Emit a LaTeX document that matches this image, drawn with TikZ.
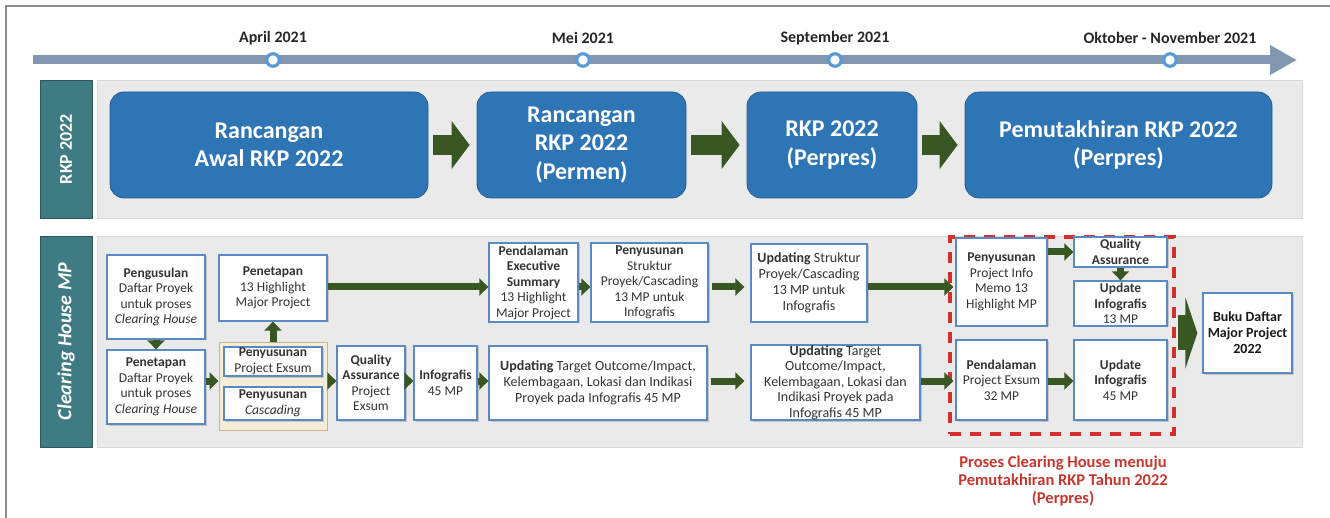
\documentclass[tikz,border=0pt]{standalone}
\usepackage{fontspec}
\setmainfont{Carlito}
\usetikzlibrary{arrows.meta,shadows}

\definecolor{framegray}{HTML}{8C8C8C}
\definecolor{barblue}{HTML}{8497B0}
\definecolor{ringblue}{HTML}{5B9BD5}
\definecolor{sideteal}{HTML}{3F7B82}
\definecolor{panelgray}{HTML}{EBEAEB}
\definecolor{rkpblue}{HTML}{2E75B6}
\definecolor{darkgreen}{HTML}{385723}
\definecolor{boxblue}{HTML}{5A8AC6}
\definecolor{tanfill}{HTML}{F4EED9}
\definecolor{tanline}{HTML}{C8B78A}
\definecolor{dashred}{HTML}{D32F2F}
\definecolor{capred}{HTML}{C8372D}

\newcommand{\Milestone}[3]{%
    \node[ring] (#1) at (#2,60) {};
    \node[datelbl] (#1-lbl) at (#2,38) {#3};
}

\begin{document}
\begin{tikzpicture}[x=1pt,y=-1pt,
    ring/.style={circle,draw=ringblue,line width=3.2pt,fill=white,minimum size=12.5pt,inner sep=0pt},
    datelbl/.style={font=\bfseries\fontsize{16}{18}\selectfont,text=black!85},
    side/.style={fill=sideteal,draw=sideteal!70!black,line width=0.6pt,rotate=90,text=white,inner sep=0pt,font=\bfseries\fontsize{18}{20}\selectfont},
    panel/.style={fill=panelgray,draw=black!15,line width=0.8pt,inner sep=0pt},
    stage/.style={rounded corners=14pt,fill=rkpblue,draw=rkpblue!80!black,line width=0.8pt,text=white,align=center,inner sep=0pt,minimum height=106pt,font=\bfseries\fontsize{24}{28.5}\selectfont},
    task/.style={draw=boxblue,line width=1.3pt,fill=white,align=center,inner sep=0pt,text=black!80,font=\fontsize{13.5}{15.5}\selectfont,drop shadow={shadow xshift=1.5pt,shadow yshift=-1.5pt,opacity=0.35}},
    bigarrow/.style={darkgreen,line width=20pt,-{Triangle[length=18pt,width=47pt]},shorten <=5pt,shorten >=7pt},
    garrow/.style={darkgreen,line width=7pt,-{Triangle[length=9pt,width=17pt]}},
]
\useasboundingbox (0,0) rectangle (1330,518);
\draw[framegray,line width=2.5pt] (6,518) -- (6,6) -- (1330,6);

\coordinate (t0) at (33,60);
\coordinate (t1) at (1297,60);
\draw[barblue,line width=9pt,-{Triangle[length=27pt,width=28pt]}] (t0) -- (t1);
\Milestone{apr}{273}{April 2021}
\Milestone{mei}{583}{Mei 2021}
\Milestone{sep}{835}{September 2021}
\Milestone{okt}{1170}{Oktober - November 2021}

\node[panel,minimum width=1205pt,minimum height=138pt] (rkp-panel) at (699.5,149) {};
\node[side,minimum width=138pt,minimum height=52pt] (rkp-side) at (66,149) {RKP 2022};
\node[panel,minimum width=1205pt,minimum height=211pt] (mp-panel) at (699.5,341.5) {};
\node[side,minimum width=211pt,minimum height=52pt,font=\bfseries\itshape\fontsize{20}{22}\selectfont] (mp-side) at (66,341.5) {Clearing House MP};

\node[stage,minimum width=318pt] (awal) at (269,145) {Rancangan\\Awal RKP 2022};
\node[stage,minimum width=209pt] (permen) at (581.5,145) {Rancangan\\RKP 2022\\(Permen)};
\node[stage,minimum width=170pt] (perpres) at (832,145) {RKP 2022\\(Perpres)};
\node[stage,minimum width=307pt] (mutakhir) at (1118.5,145) {Pemutakhiran RKP 2022\\(Perpres)};
\draw[bigarrow] (awal) -- (permen);
\draw[bigarrow] (permen) -- (perpres);
\draw[bigarrow] (perpres) -- (mutakhir);

\coordinate (upper) at (0,287);
\coordinate (lower) at (0,381);

\node[task,minimum width=98pt,minimum height=84pt] (usul) at (156,297) {\textbf{Pengusulan}\\Daftar Proyek\\untuk proses\\\textit{Clearing House}};
\node[task,minimum width=98pt,minimum height=74pt] (tetap) at (156,387) {\textbf{Penetapan}\\Daftar Proyek\\untuk proses\\\textit{Clearing House}};
\node[task,minimum width=108pt,minimum height=66pt] (hl13) at (273,288) {\textbf{Penetapan}\\13 Highlight\\Major Project};
\node[fill=tanfill,draw=tanline,line width=1pt,minimum width=108pt,minimum height=87pt,inner sep=0pt] (tan) at (273,386.5) {};
\node[task,minimum width=98pt,minimum height=29pt] (exsum) at (273,361.5) {\textbf{Penyusunan}\\Project Exsum};
\node[task,minimum width=98pt,minimum height=33pt] (casc) at (273,403.5) {\textbf{Penyusunan}\\\textit{Cascading}};
\node[task,minimum width=68pt,minimum height=74pt] (qa) at (371,383) {\textbf{Quality}\\\textbf{Assurance}\\Project\\Exsum};
\node[task,minimum width=63pt,minimum height=74pt] (info45) at (445.5,383) {\textbf{Infografis}\\45 MP};
\node[task,minimum width=218pt,minimum height=74pt,font=\fontsize{14}{16}\selectfont] (upd45) at (598,383) {\textbf{Updating} Target Outcome/Impact,\\Kelembagaan, Lokasi dan Indikasi\\Proyek pada Infografis 45 MP};
\node[task,minimum width=89pt,minimum height=79pt] (dalam) at (533.5,282.5) {\textbf{Pendalaman}\\\textbf{Executive}\\\textbf{Summary}\\13 Highlight\\Major Project};
\node[task,minimum width=117pt,minimum height=79pt] (struk) at (649.5,282.5) {\textbf{Penyusunan}\\Struktur\\Proyek/Cascading\\13 MP untuk\\Infografis};
\node[task,minimum width=116pt,minimum height=78pt,font=\fontsize{14}{16}\selectfont] (upstruk) at (809,283) {\textbf{Updating} Struktur\\Proyek/Cascading\\13 MP untuk\\Infografis};
\node[task,minimum width=169pt,minimum height=75pt,font=\fontsize{14}{15.5}\selectfont] (uptarget) at (835.5,382.5) {\textbf{Updating} Target\\Outcome/Impact,\\Kelembagaan, Lokasi dan\\Indikasi Proyek pada\\Infografis 45 MP};

\node[draw=dashred,line width=3.5pt,dash pattern=on 11pt off 9pt,minimum width=224pt,minimum height=197pt,inner sep=0pt] (focus) at (1062,335.5) {};
\node[task,minimum width=91pt,minimum height=88pt] (memo) at (1001.5,282) {\textbf{Penyusunan}\\Project Info\\Memo 13\\Highlight MP};
\node[task,minimum width=93pt,minimum height=30pt] (qa2) at (1120.5,252) {\textbf{Quality}\\\textbf{Assurance}};
\node[task,minimum width=93pt,minimum height=45pt] (inf13) at (1120.5,303.5) {\textbf{Update}\\\textbf{Infografis}\\13 MP};
\node[task,minimum width=91pt,minimum height=80pt] (dalam32) at (1001.5,380) {\textbf{Pendalaman}\\Project Exsum\\32 MP};
\node[task,minimum width=93pt,minimum height=80pt] (inf45) at (1120.5,380) {\textbf{Update}\\\textbf{Infografis}\\45 MP};
\node[task,minimum width=89pt,minimum height=80pt,text=black!90,font=\bfseries\fontsize{14}{16}\selectfont] (buku) at (1247.5,333) {Buku Daftar\\Major Project\\2022};
\node[text=capred,align=center,font=\bfseries\fontsize{16.5}{18}\selectfont] (focus-cap) at (1063,481) {Proses Clearing House menuju\\Pemutakhiran RKP Tahun 2022\\(Perpres)};

\draw[garrow] (usul) -- (tetap);
\draw[garrow] (tan) -- (hl13);
\draw[garrow] ([yshift=6pt]tetap.east) -- ([yshift=6pt]tetap.east -| tan.west);
\draw[garrow] (tan.east |- lower) -- (qa.west |- lower);
\draw[garrow] (qa.east |- lower) -- (info45.west |- lower);
\draw[garrow] (info45.east |- lower) -- (upd45.west |- lower);
\draw[garrow,shorten <=3pt,shorten >=6pt] (upd45.east |- lower) -- (uptarget.west |- lower);
\draw[garrow,shorten >=2pt] (uptarget.east |- lower) -- (dalam32.west |- lower);
\draw[garrow] (dalam32.east |- lower) -- (inf45.west |- lower);
\draw[garrow] (hl13.east |- upper) -- (dalam.west |- upper);
\draw[garrow] (dalam.east |- upper) -- (struk.west |- upper);
\draw[garrow,shorten <=3pt,shorten >=6pt] (struk.east |- upper) -- (upstruk.west |- upper);
\draw[garrow,shorten >=2pt] (upstruk.east |- upper) -- (memo.west |- upper);
\draw[garrow] (memo.east |- qa2.west) -- (qa2.west);
\draw[garrow] (qa2) -- (inf13);
\draw[darkgreen,line width=35pt,-{Triangle[length=12pt,width=71pt]},shorten <=2pt,shorten >=5pt] (focus.east |- buku.west) -- (buku.west);
\end{tikzpicture}
\end{document}
